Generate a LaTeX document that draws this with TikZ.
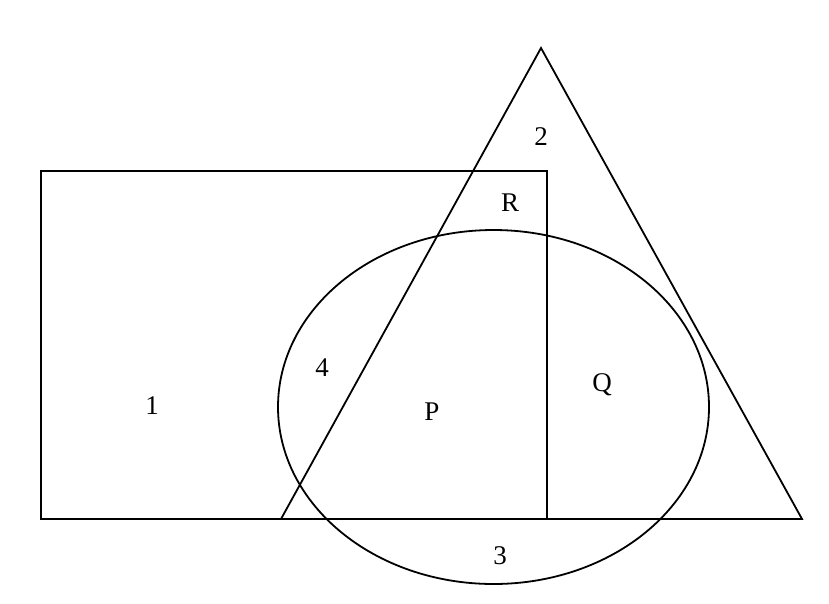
\documentclass[tikz,border=0pt]{standalone}
\usepackage{fontspec}
\setmainfont{Liberation Serif}
\usepackage{tikz}
\usetikzlibrary{positioning,shapes}

\begin{document}
\begin{tikzpicture}[
            x=1pt, y=-1pt,
            region/.style={draw=black, line width=1.8pt},
            every node/.style={font=\fontsize{27}{30}\selectfont, inner sep=0pt}
        ]
            \useasboundingbox (0,0) rectangle (829,603);
            % Shapes
            \draw[region] (41,171) rectangle (547,519); % rectangle
            \draw[region] (541,48) -- (802,519) -- (281,519) -- cycle; % triangle
            \draw[region] (493.5,407) ellipse [x radius=215.5, y radius=177]; % ellipse
            % Labels
            \node (l1) at (152,406) {1};
            \node (l2) at (541,137) {2};
            \node (lR) at (510,203) {R};
            \node (l4) at (322,368) {4};
            \node (lP) at (432,412) {P};
            \node (lQ) at (602,385) {Q};
            \node (l3) at (500,556) {3};
        \end{tikzpicture}
\end{document}
